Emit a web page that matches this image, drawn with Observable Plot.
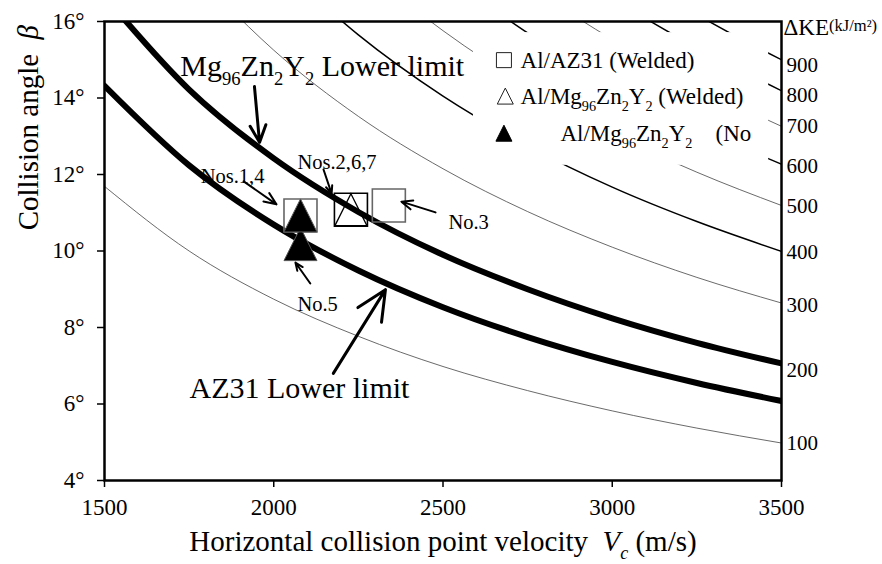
<!DOCTYPE html>
<html><head><meta charset="utf-8">
<script src="https://cdn.jsdelivr.net/npm/d3@7"></script>
<script src="https://cdn.jsdelivr.net/npm/@observablehq/plot@0.6"></script>
<style>
body{margin:0;background:#fff;}
svg text{white-space:pre;}
</style></head><body><div id="chart"></div>
<script>
// ---------- data ----------
const xTicks = [1500, 2000, 2500, 3000, 3500];
const yTicks = [4, 6, 8, 10, 12, 14, 16];

// thick lower-limit curves (Vc, beta in degrees)
const vcGrid = [1500, 1750, 2000, 2250, 2500, 2750, 3000, 3250, 3500];
const az31LowerLimit = [14.32, 12.24, 10.69, 9.49, 8.53, 7.75, 7.10, 6.55, 6.08];
const mgLowerLimit = [16.66, 14.22, 12.42, 11.02, 9.90, 9.00, 8.24, 7.60, 7.06];

// iso-kinetic-energy curves
const ke100Vc = [1500, 1750, 2000, 2250, 2500, 2750, 3000, 3250, 3500];
const ke100Beta = [11.69, 10.00, 8.74, 7.77, 6.98, 6.35, 5.82, 5.37, 4.98];
const ke300Vc = [1850, 2000, 2250, 2500, 2750, 3000, 3250, 3500];
const ke300Beta = [16.52, 15.25, 13.52, 12.15, 11.03, 10.10, 9.31, 8.64];
const ke400Vc = [2150, 2250, 2500, 2750, 3000, 3250, 3500];
const ke400Beta = [16.40, 15.65, 14.05, 12.75, 11.67, 10.77, 9.99];
const ke500Vc = [2400, 2500, 2750, 3000, 3250, 3500];
const ke500Beta = [16.43, 15.76, 14.30, 13.08, 12.06, 11.19];
const ke600Vc = [2650, 2750, 3000, 3250, 3500];
const ke600Beta = [16.31, 15.70, 14.36, 13.23, 12.27];
const ke700Vc = [2900, 3000, 3250, 3500];
const ke700Beta = [16.08, 15.53, 14.31, 13.26];
const ke800Vc = [3100, 3250, 3500];
const ke800Beta = [16.07, 15.31, 14.19];
const ke900Vc = [3280, 3400, 3500];
const ke900Beta = [16.03, 15.45, 15.00];

// right-hand ΔKE scale
const keLabels = ["100", "200", "300", "400", "500", "600", "700", "800", "900"];
const keTickBeta = [4.98, 6.89, 8.59, 9.97, 11.18, 12.22, 13.27, 14.08, 14.86];

// experiments
const azWeldedVc = [2079, 2228, 2340];
const azWeldedBeta = [10.93, 11.08, 11.19];
const mgWeldedVc = [2228];
const mgWeldedBeta = [11.08];
const mgNotWeldedVc = [2079, 2079];
const mgNotWeldedBeta = [10.18, 10.93];

// ---------- helpers ----------
const pts = (xs, ys) => xs.map((x, i) => ({x, y: ys[i]}));
const keMap = new Map(keTickBeta.map((b, i) => [b, keLabels[i]]));
const squareSym = d3.symbolSquare;
const triSym = {draw(ctx, size) {
  const s = Math.sqrt(size);
  ctx.moveTo(0, -s / 2); ctx.lineTo(s / 2, s / 2); ctx.lineTo(-s / 2, s / 2); ctx.closePath();
}};
const side = s => s / Math.sqrt(Math.PI);
const FONT = "Liberation Serif, Times New Roman, serif";

const thin = {stroke: "#444", strokeWidth: 0.8, curve: "monotone-x", clip: true};
const mid = {stroke: "#000", strokeWidth: 1.5, curve: "monotone-x", clip: true};
const thick = {stroke: "#000", strokeWidth: 6, curve: "monotone-x", clip: true};

const chart = Plot.plot({
  width: 882, height: 564,
  marginLeft: 104, marginRight: 101, marginTop: 21, marginBottom: 84,
  style: {fontFamily: FONT, background: "#fff", color: "#000"},
  x: {domain: [1500, 3500]},
  y: {domain: [4, 16]},
  marks: [
    Plot.line(pts(ke100Vc, ke100Beta), {x: "x", y: "y", ...thin}),
    Plot.line(pts(ke300Vc, ke300Beta), {x: "x", y: "y", ...thin}),
    Plot.line(pts(ke400Vc, ke400Beta), {x: "x", y: "y", ...mid}),
    Plot.line(pts(ke500Vc, ke500Beta), {x: "x", y: "y", ...thin}),
    Plot.line(pts(ke600Vc, ke600Beta), {x: "x", y: "y", ...mid}),
    Plot.line(pts(ke700Vc, ke700Beta), {x: "x", y: "y", ...thin}),
    Plot.line(pts(ke800Vc, ke800Beta), {x: "x", y: "y", ...mid}),
    Plot.line(pts(ke900Vc, ke900Beta), {x: "x", y: "y", ...mid}),
    // legend background
    Plot.rect([0], {x1: 2590, x2: 3462, y1: 12.24, y2: 15.71, fill: "#fff"}),
    Plot.line(pts(vcGrid, mgLowerLimit), {x: "x", y: "y", ...thick}),
    Plot.line(pts(vcGrid, az31LowerLimit), {x: "x", y: "y", ...thick}),
    Plot.frame({stroke: "#000", strokeWidth: 2.5}),
    // axes
    Plot.axisX(xTicks, {tickSize: 7, tickPadding: 11, fontSize: 23, label: null, strokeWidth: 1.5, tickFormat: d => String(d)}),
    Plot.axisY(yTicks, {tickSize: 7, tickPadding: 13, fontSize: 23, label: null, strokeWidth: 1.5, tickFormat: d => d + "°"}),
    Plot.axisY(keTickBeta, {anchor: "right", tickSize: 0, tickPadding: 5, fontSize: 21, label: null, tickFormat: d => keMap.get(d)}),
    Plot.text(["ΔKE^{(kJ/m²)}"], {x: 3500, y: 16, dx: 2, dy: 6, textAnchor: "start", fontSize: 23}),
    Plot.text(["Horizontal collision point velocity  *{V}~{c} (m/s)"], {frameAnchor: "bottom", dy: 70, fontSize: 29}),
    Plot.text(["Collision angle  *{β}"], {frameAnchor: "left", y: 10.54, dx: -76, rotate: -90, fontSize: 29}),
    // experiments
    Plot.dot(pts(azWeldedVc, azWeldedBeta), {x: "x", y: "y", symbol: squareSym, r: side(33), fill: "none",
      stroke: (d, i) => i === 1 ? "#000" : "#666", strokeWidth: 1.6}),
    Plot.dot(pts(mgWeldedVc, mgWeldedBeta), {x: "x", y: "y", symbol: triSym, r: side(32), fill: "none", stroke: "#000", strokeWidth: 1.3}),
    Plot.dot(pts(mgNotWeldedVc, mgNotWeldedBeta), {x: "x", y: "y", symbol: triSym, r: side(33), fill: "#000", stroke: "#555", strokeWidth: 1}),
    // legend
    Plot.dot([0], {x: 2680, y: 14.99, symbol: squareSym, r: side(15), fill: "none", stroke: "#222", strokeWidth: 1}),
    Plot.dot([0], {x: 2684, y: 14.05, symbol: triSym, r: side(16), fill: "none", stroke: "#222", strokeWidth: 1}),
    Plot.dot([0], {x: 2680, y: 13.08, symbol: triSym, r: side(16), fill: "#000", stroke: "#000", strokeWidth: 1}),
    Plot.text(["Al/AZ31 (Welded)"], {x: 2729, y: 14.97, textAnchor: "start", fontSize: 23}),
    Plot.text(["Al/Mg_{96}Zn_{2}Y_{2} (Welded)"], {x: 2729, y: 14.03, textAnchor: "start", fontSize: 23}),
    Plot.text(["Al/Mg_{96}Zn_{2}Y_{2}    (No"], {x: 2847, y: 13.06, textAnchor: "start", fontSize: 23}),
    // annotations
    Plot.text(["Mg_{96}Zn_{2}Y_{2} Lower limit"], {x: 1724, y: 14.82, textAnchor: "start", fontSize: 30}),
    Plot.arrow([0], {x1: 1943, y1: 14.30, x2: 1958, y2: 12.84, strokeWidth: 3, headLength: 18, headAngle: 50}),
    Plot.text(["AZ31 Lower limit"], {x: 1751, y: 6.41, textAnchor: "start", fontSize: 30}),
    Plot.arrow([0], {x1: 2176, y1: 6.80, x2: 2330, y2: 8.99, strokeWidth: 3, headLength: 18, headAngle: 50}),
    Plot.text(["Nos.1,4"], {x: 1784, y: 11.95, textAnchor: "start", fontSize: 20.5}),
    Plot.arrow([0], {x1: 1911, y1: 11.82, x2: 2008, y2: 11.22, strokeWidth: 2, headLength: 10, headAngle: 45}),
    Plot.text(["Nos.2,6,7"], {x: 2070, y: 12.31, textAnchor: "start", fontSize: 20.5}),
    Plot.arrow([0], {x1: 2147, y1: 12.13, x2: 2171, y2: 11.50, strokeWidth: 2, headLength: 10, headAngle: 45}),
    Plot.text(["No.3"], {x: 2516, y: 10.75, textAnchor: "start", fontSize: 20.5}),
    Plot.arrow([0], {x1: 2478, y1: 11.01, x2: 2377, y2: 11.29, strokeWidth: 2, headLength: 10, headAngle: 45}),
    Plot.text(["No.5"], {x: 2070, y: 8.60, textAnchor: "start", fontSize: 20.5}),
    Plot.arrow([0], {x1: 2108, y1: 9.15, x2: 2064, y2: 9.70, strokeWidth: 2, headLength: 10, headAngle: 45})
  ]
});
document.getElementById("chart").appendChild(chart);

// rich text: _{sub} ^{small raised} *{italic} ~{italic sub}
function richify(root) {
  root.querySelectorAll("text").forEach(el => {
    const s = el.textContent;
    if (!/[_^*~]\{/.test(s)) return;
    const fs = parseFloat(getComputedStyle(el).fontSize) || 16;
    const parts = [];
    const re = /([_^*~])\{([^}]*)\}/g;
    let last = 0, m;
    while ((m = re.exec(s))) {
      if (m.index > last) parts.push({t: s.slice(last, m.index), k: ""});
      parts.push({t: m[2], k: m[1]});
      last = re.lastIndex;
    }
    if (last < s.length) parts.push({t: s.slice(last), k: ""});
    while (el.firstChild) el.removeChild(el.firstChild);
    let shift = 0;
    for (const p of parts) {
      const ts = document.createElementNS("http://www.w3.org/2000/svg", "tspan");
      let target = 0;
      if (p.k === "_" || p.k === "~") { target = 0.3 * fs; ts.setAttribute("font-size", 0.62 * fs); }
      if (p.k === "^") { target = -0.18 * fs; ts.setAttribute("font-size", 0.72 * fs); }
      if (p.k === "*" || p.k === "~") ts.setAttribute("font-style", "italic");
      if (target !== shift) ts.setAttribute("dy", target - shift);
      shift = target;
      ts.textContent = p.t;
      el.appendChild(ts);
    }
  });
}
richify(chart);
</script></body></html>
